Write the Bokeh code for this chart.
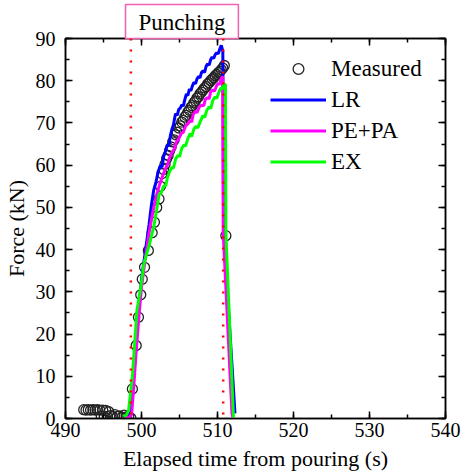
from bokeh.plotting import figure
from bokeh.models import (LinearAxis, SingleIntervalTicker, Span, Legend,
                          LegendItem, Range1d, ColumnDataSource, Title)
from bokeh.embed import file_html
from bokeh.resources import INLINE

# ---------------- data ----------------
meas_t = [492.4, 492.7, 493.0, 493.3, 493.6, 493.9, 494.2, 494.5, 494.7, 494.9,
          495.1, 495.3, 495.5, 495.7, 495.9, 496.2, 496.5, 496.8, 497.1, 497.4,
          497.7, 498.0, 498.3, 498.6,
          498.8, 499.3, 499.6, 499.9, 500.1, 500.4, 500.9, 501.4, 501.7, 502.0,
          502.3, 502.5, 502.7, 502.9, 503.1, 503.3, 503.5, 503.7, 503.9, 504.1,
          504.3, 504.5, 504.7, 504.9, 505.1, 505.3, 505.5, 505.7, 505.9, 506.1,
          506.3, 506.5, 506.7, 506.9, 507.1, 507.3, 507.5, 507.7, 507.9, 508.1,
          508.3, 508.5, 508.7, 508.9, 509.1, 509.3, 509.5, 509.7, 509.9, 510.1,
          510.3, 510.5, 510.7, 510.9, 511.1]
meas_f = [2.1, 2.0, 2.1, 2.0, 2.1, 2.0, 2.1, 2.0, 0.6, 2.0,
          0.4, 1.9, 0.5, 1.6, 0.7, 0.4, 0.9, 0.5, 0.6, 0.3,
          0.8, 0.4, 0.5, 0.1,
          7.0, 17.3, 24.0, 29.3, 33.0, 35.8, 39.8, 44.0, 46.5, 50.0,
          52.0, 55.0, 58.0, 59.0, 60.2, 61.5, 62.3, 63.5, 64.3, 65.5,
          66.0, 67.2, 67.8, 68.8, 69.3, 70.2, 70.6, 71.4, 71.8, 72.6,
          73.0, 73.7, 74.1, 74.8, 75.2, 75.9, 76.2, 76.9, 77.3, 77.8,
          78.3, 78.6, 79.2, 79.5, 80.0, 80.4, 80.7, 81.2, 81.5, 81.9,
          82.2, 82.6, 83.0, 83.6, 43.3]

lr_t = [497.8, 498.3, 498.6, 498.9, 499.2, 499.6, 500.0, 500.5, 501.0, 501.3,
        501.6, 501.9, 502.2, 502.5, 502.7, 502.9, 503.2, 503.4, 503.6, 503.8,
        504.0, 504.2, 504.4, 504.5, 504.7, 504.9, 505.1, 505.3, 505.5, 505.7,
        505.9, 506.1, 506.3, 506.5, 506.7, 506.9, 507.1, 507.3, 507.5, 507.7,
        507.9, 508.1, 508.3, 508.5, 508.7, 508.9, 509.1, 509.3, 509.5, 509.7,
        509.9, 510.1, 510.3, 510.5, 510.7, 510.8, 512.3]
lr_f = [0.3, 0.8, 2.0, 8.0, 15.0, 25.0, 33.0, 39.5, 46.0, 50.5,
        54.0, 56.0, 58.5, 60.0, 59.5, 62.0, 63.5, 64.8, 64.5, 67.0,
        68.5, 69.5, 71.5, 72.2, 71.8, 73.2, 73.5, 74.3, 74.0, 75.5,
        76.8, 76.5, 78.0, 77.6, 78.8, 79.6, 79.3, 80.4, 81.0, 80.7,
        82.0, 82.3, 82.0, 83.4, 84.0, 83.7, 85.0, 85.6, 85.3, 86.2,
        86.6, 86.4, 87.5, 88.4, 87.0, 45.0, 1.2]

pe_t = [497.8, 498.4, 498.7, 499.0, 499.3, 499.7, 500.0, 500.5, 501.0, 501.5,
        502.0, 502.4, 502.8, 503.1, 503.4, 503.7, 504.0, 504.3, 504.6, 504.9,
        505.2, 505.5, 505.8, 506.1, 506.4, 506.6, 506.8, 507.1, 507.3, 507.6,
        507.9, 508.2, 508.4, 508.7, 508.9, 509.1, 509.4, 509.6, 509.9, 510.1,
        510.3, 510.5, 510.7, 510.75, 511.9, 512.0]
pe_f = [0.2, 0.3, 1.0, 8.0, 16.0, 25.0, 31.0, 38.0, 44.0, 49.0,
        53.0, 55.5, 57.5, 59.0, 60.0, 61.8, 63.0, 63.8, 65.5, 66.2,
        67.5, 67.8, 69.3, 69.8, 70.6, 70.2, 72.0, 72.8, 72.4, 73.8,
        74.2, 74.1, 75.6, 76.0, 75.7, 77.4, 77.8, 77.5, 78.9, 79.4,
        79.2, 80.6, 81.0, 44.0, 1.2, 0.3]

ex_t = [497.6, 498.0, 498.3, 498.8, 499.4, 499.9, 500.3, 501.0, 501.6, 502.0,
        502.3, 502.6, 502.9, 503.2, 503.4, 503.7, 504.0, 504.2, 504.5, 504.8,
        505.0, 505.3, 505.6, 505.8, 506.1, 506.4, 506.6, 506.9, 507.2, 507.4,
        507.8, 508.1, 508.3, 508.6, 508.9, 509.1, 509.4, 509.7, 509.9, 510.2,
        510.5, 510.7, 510.85, 511.05, 511.1, 512.1]
ex_f = [0.5, 0.8, 1.9, 10.0, 25.6, 31.0, 36.6, 41.0, 45.3, 49.5,
        53.0, 53.5, 55.0, 55.2, 57.0, 58.5, 59.5, 59.3, 61.5, 62.3,
        62.0, 64.0, 64.8, 64.5, 66.3, 67.5, 66.8, 68.6, 69.2, 68.8,
        70.6, 71.8, 71.3, 73.0, 73.8, 73.4, 75.4, 76.2, 75.8, 77.4,
        78.4, 78.0, 79.3, 79.0, 44.0, 0.3]

punch_start = 498.6
punch_end = 510.75
x_ticks = [490, 500, 510, 520, 530, 540]
y_ticks = [0, 10, 20, 30, 40, 50, 60, 70, 80, 90]

FONT = "Liberation Serif"

title = Title(text="Punching", align="left", offset=60, standoff=0,
              text_font=FONT, text_font_size="23px", text_font_style="normal",
              text_color="black", border_line_color="#f060b0",
              border_line_width=1.5, background_fill_color="white",
              padding=dict(left=13, right=13, top=5, bottom=4))

p = figure(width=461, height=476, min_border_left=65, min_border_right=16,
           min_border_top=38, min_border_bottom=58,
           x_range=Range1d(490, 540), y_range=Range1d(0, 90),
           output_backend="svg", toolbar_location=None,
           x_axis_label="Elapsed time from pouring (s)", y_axis_label="Force (kN)",
           title=title)
p.xgrid.visible = False
p.ygrid.visible = False
p.outline_line_color = "black"
p.outline_line_width = 1.5
p.background_fill_color = "white"
p.border_fill_color = "white"

bottom = p.below[0]
left = p.left[0]

xt = SingleIntervalTicker(interval=10, num_minor_ticks=2)
yt = SingleIntervalTicker(interval=10, num_minor_ticks=2)
bottom.ticker = xt
left.ticker = yt

top = LinearAxis(ticker=xt, major_label_overrides={v: "" for v in x_ticks},
                 major_label_text_font_size="1px", major_label_standoff=0)
right = LinearAxis(ticker=yt, major_label_overrides={v: "" for v in y_ticks},
                   major_label_text_font_size="1px", major_label_standoff=0)
p.add_layout(top, "above")
p.add_layout(right, "right")

for ax in [bottom, left, top, right]:
    ax.axis_line_color = "black"
    ax.axis_line_width = 1.5
    ax.major_tick_line_width = 1.5
    ax.minor_tick_line_width = 1.5
    ax.major_tick_in = 7
    ax.major_tick_out = 0
    ax.minor_tick_in = 4
    ax.minor_tick_out = 0
    ax.major_tick_line_color = "black"
    ax.minor_tick_line_color = "black"
    ax.major_label_text_font = FONT
    ax.major_label_text_color = "black"
    ax.axis_label_text_font = FONT
    ax.axis_label_text_font_style = "normal"
    ax.axis_label_text_color = "black"

for ax in [bottom, left]:
    ax.major_label_text_font_size = "20px"
    ax.axis_label_text_font_size = "22px"
bottom.major_label_standoff = 4
left.major_label_standoff = 10
bottom.axis_label_standoff = 6
left.axis_label_standoff = 4

src_m = ColumnDataSource(dict(t=meas_t, f=meas_f))
r_meas = p.scatter("t", "f", source=src_m, marker="circle", size=10,
                   fill_color=None, line_color="#222222", line_width=1.3)
r_lr = p.line(lr_t, lr_f, line_color="#0000ff", line_width=3)
r_pe = p.line(pe_t, pe_f, line_color="#ff00ff", line_width=3)
r_ex = p.line(ex_t, ex_f, line_color="#00ff00", line_width=3)

for loc in [punch_start, punch_end]:
    p.add_layout(Span(location=loc, dimension="height", line_color="red",
                      line_width=2.5, line_dash="2 9", level="overlay"))

legend = Legend(items=[LegendItem(label="Measured", renderers=[r_meas]),
                       LegendItem(label="LR", renderers=[r_lr]),
                       LegendItem(label="PE+PA", renderers=[r_pe]),
                       LegendItem(label="EX", renderers=[r_ex])],
                location=(205, 243), border_line_color=None,
                background_fill_alpha=0, label_text_font=FONT,
                label_text_font_size="23px", label_text_color="black",
                glyph_width=56, glyph_height=27, label_height=27,
                spacing=4, padding=2, margin=0, label_standoff=5)
p.add_layout(legend)

open("out.html", "w").write(file_html(p, INLINE))
